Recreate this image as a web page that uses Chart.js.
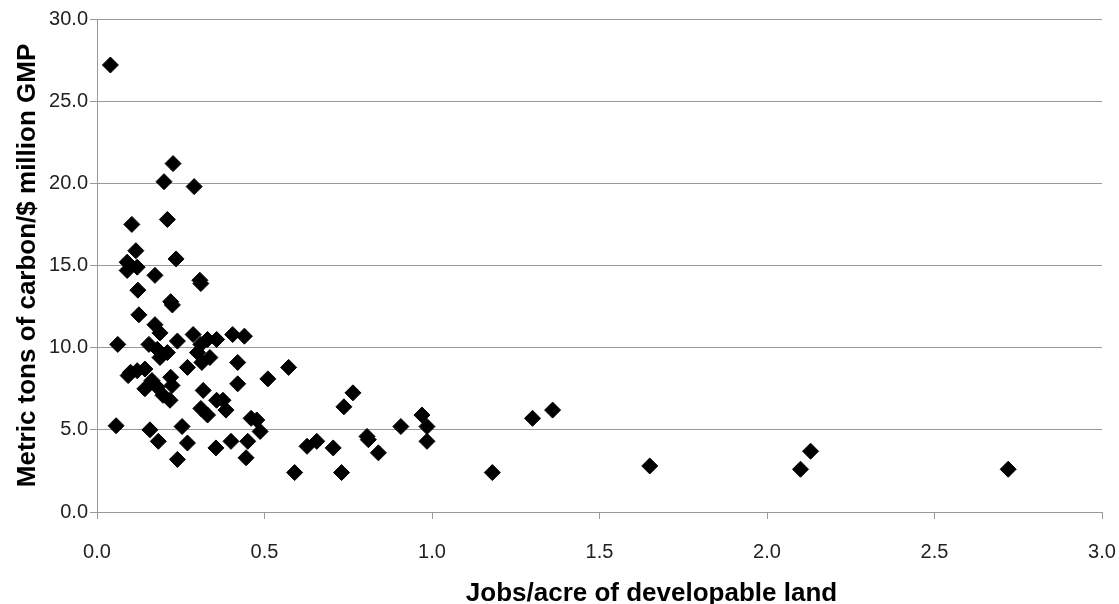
<!DOCTYPE html>
<html>
<head>
<meta charset="utf-8">
<script src="https://cdn.jsdelivr.net/npm/chart.js@4/dist/chart.umd.min.js"></script>
<style>
  html, body { margin: 0; padding: 0; background: #fff; }
  #wrap { width: 1119px; height: 604px; }
</style>
</head>
<body>
<div id="wrap"><canvas id="chart"></canvas></div>
<script>
// jobs per acre of developable land (x) and metric tons of carbon per $ million GMP (y)
const jobsPerAcre = [
  0.04, 0.057, 0.062, 0.09, 0.09, 0.093, 0.10, 0.104, 0.116, 0.12,
  0.122, 0.125, 0.12, 0.143, 0.143, 0.155, 0.158, 0.164, 0.173, 0.173,
  0.18, 0.18, 0.183, 0.188, 0.188, 0.197, 0.20, 0.21, 0.21, 0.218,
  0.22, 0.225, 0.22, 0.224, 0.227, 0.236, 0.24, 0.24, 0.254, 0.27,
  0.27, 0.287, 0.29, 0.30, 0.307, 0.31, 0.313, 0.31, 0.317, 0.33,
  0.33, 0.337, 0.355, 0.357, 0.357, 0.376, 0.385, 0.40, 0.405, 0.42,
  0.42, 0.44, 0.445, 0.45, 0.46, 0.477, 0.487, 0.51, 0.572, 0.59,
  0.627, 0.656, 0.705, 0.73, 0.737, 0.764, 0.806, 0.81, 0.84, 0.907,
  0.97, 0.985, 0.985, 1.18, 1.30, 1.36, 1.65, 2.10, 2.13, 2.72,
  0.31
];
const carbonPerGMP = [
  27.2, 5.25, 10.2, 15.2, 14.7, 8.3, 8.5, 17.5, 15.9, 14.9,
  13.5, 12.0, 8.6, 8.7, 7.5, 10.2, 5.0, 8.0, 14.4, 11.4,
  9.9, 7.6, 4.3, 10.9, 9.4, 7.1, 20.1, 17.8, 9.7, 6.8,
  12.8, 12.6, 8.2, 7.7, 21.2, 15.4, 10.4, 3.2, 5.2, 8.8,
  4.2, 10.8, 19.8, 9.7, 14.1, 13.9, 9.1, 6.3, 7.4, 10.5,
  5.9, 9.4, 3.9, 10.5, 6.8, 6.8, 6.2, 4.3, 10.8, 9.1,
  7.8, 10.7, 3.3, 4.3, 5.7, 5.6, 4.9, 8.1, 8.8, 2.4,
  4.0, 4.3, 3.9, 2.4, 6.4, 7.25, 4.6, 4.4, 3.6, 5.2,
  5.9, 5.2, 4.3, 2.4, 5.7, 6.2, 2.8, 2.6, 3.7, 2.6,
  10.2
];

const xTitle = 'Jobs/acre of developable land';
const yTitle = 'Metric tons of carbon/$ million GMP';
const fontFamily = '"Liberation Sans", Arial, sans-serif';

const points = jobsPerAcre.map((x, i) => ({ x: x, y: carbonPerGMP[i] }));

// x axis title sits right of centre in the original, so draw it ourselves
const xTitlePlugin = {
  id: 'xTitle',
  afterDraw(chart) {
    const ctx = chart.ctx;
    const area = chart.chartArea;
    ctx.save();
    ctx.font = 'bold 26px ' + fontFamily;
    ctx.fillStyle = '#000';
    ctx.textAlign = 'center';
    ctx.textBaseline = 'middle';
    ctx.fillText(xTitle, (area.left + area.right) / 2 + 52, 594);
    ctx.restore();
  }
};

const ctx = document.getElementById('chart').getContext('2d');
new Chart(ctx, {
  type: 'scatter',
  data: {
    datasets: [{
      data: points,
      pointStyle: 'rectRot',
      pointRadius: 8,
      pointBackgroundColor: '#000',
      pointBorderColor: '#000',
      pointBorderWidth: 1
    }]
  },
  options: {
    responsive: true,
    maintainAspectRatio: false,
    animation: false,
    layout: { padding: { left: 0, right: 17, top: 19, bottom: 0 } },
    plugins: {
      legend: { display: false },
      tooltip: { enabled: false }
    },
    scales: {
      x: {
        type: 'linear',
        min: 0,
        max: 3,
        afterFit: (scale) => {
          scale.height = 92;
          scale.paddingRight = 0;
          scale.paddingLeft = 0;
        },
        ticks: {
          stepSize: 0.5,
          padding: 21,
          color: '#222',
          font: { family: fontFamily, size: 20 },
          callback: (v) => v.toFixed(1)
        },
        grid: { drawOnChartArea: false, drawTicks: true, tickLength: 7, color: '#999' },
        border: { color: '#999', width: 1 }
      },
      y: {
        type: 'linear',
        min: 0,
        max: 30,
        afterFit: (scale) => {
          scale.width = 97;
          scale.paddingTop = 0;
          scale.paddingBottom = 0;
        },
        title: {
          display: true,
          text: yTitle,
          color: '#000',
          padding: { top: 12, bottom: 0 },
          font: { family: fontFamily, size: 26, weight: 'bold' }
        },
        ticks: {
          stepSize: 5,
          padding: 2,
          color: '#222',
          font: { family: fontFamily, size: 20 },
          callback: (v) => v.toFixed(1)
        },
        grid: { color: '#999', tickLength: 7, lineWidth: 1 },
        border: { color: '#999', width: 1 }
      }
    }
  },
  plugins: [xTitlePlugin]
});
</script>
</body>
</html>
